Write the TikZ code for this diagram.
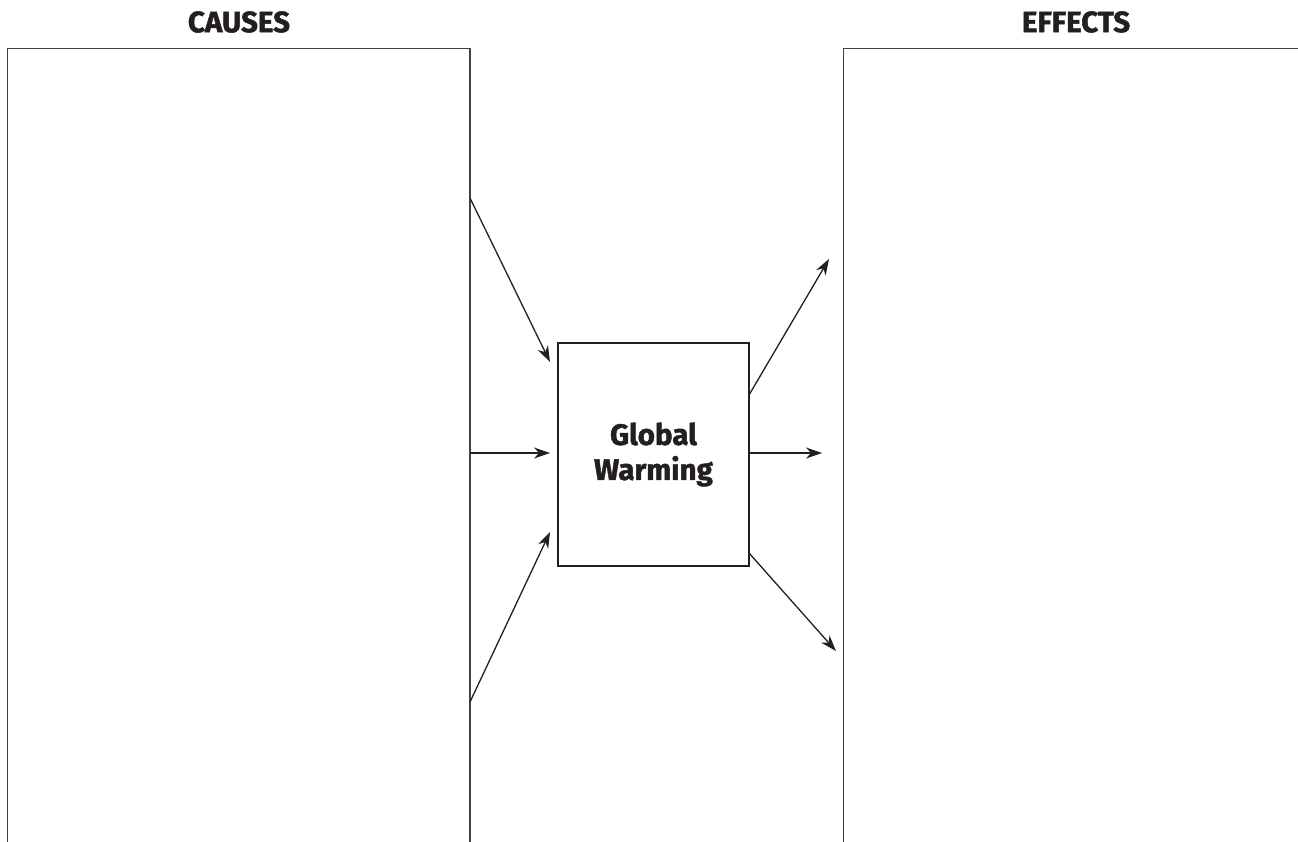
\documentclass[tikz,border=0pt]{standalone}
\usepackage{fontspec}
\setmainfont{Fira Sans}[BoldFeatures={FakeBold=1.6}]
\usetikzlibrary{arrows.meta}
\definecolor{ink}{HTML}{231F20}
\begin{document}
\begin{tikzpicture}[x=1pt,y=-1pt,
  panel/.style={draw=ink!85, line width=1.7pt},
  conn/.style={draw=ink, line width=1.3pt, -{Stealth[length=16pt,width=11pt,inset=5pt]}},
  heading/.style={font=\bfseries\fontsize{29.5}{35}\selectfont, text=ink, inner sep=0pt},
  centerbox/.style={draw=ink, line width=1.2pt, minimum width=191pt, minimum height=223pt, inner sep=0pt, align=center, heading}
  ]
\useasboundingbox[fill=white] (0,0) rectangle (1298,842);

% headings
\node[heading] (causes) at (239,22) {CAUSES};
\node[heading] (effects) at (1076,22) {EFFECTS};

% panels (open at the bottom / right)
\coordinate (lbl) at (7.5,842);
\coordinate (ltl) at (7.5,48.5);
\coordinate (ltr) at (470,48.5);
\coordinate (lbr) at (470,842);
\draw[panel] (lbl) -- (ltl) -- (ltr) -- (lbr);

\coordinate (rbl) at (843.5,842);
\coordinate (rtl) at (843.5,48.5);
\coordinate (rtr) at (1298,48.5);
\draw[panel] (rbl) -- (rtl) -- (rtr);

% centre box
\node[centerbox] (gw) at (653.5,454.5) {Global\\Warming};

% cause arrows
\coordinate (c1) at (470,198);
\coordinate (c2) at (470,453);
\coordinate (c3) at (470,702);
\coordinate (t1) at (550,362);
\coordinate (t2) at (550,453);
\coordinate (t3) at (550,532);
\draw[conn] (c1) -- (t1);
\draw[conn] (c2) -- (t2);
\draw[conn] (c3) -- (t3);

% effect arrows
\coordinate (s1) at (749,395);
\coordinate (s2) at (749,453);
\coordinate (s3) at (749,553);
\coordinate (e1) at (829,259);
\coordinate (e2) at (822,453);
\coordinate (e3) at (836,651);
\draw[conn] (s1) -- (e1);
\draw[conn] (s2) -- (e2);
\draw[conn] (s3) -- (e3);
\end{tikzpicture}
\end{document}
